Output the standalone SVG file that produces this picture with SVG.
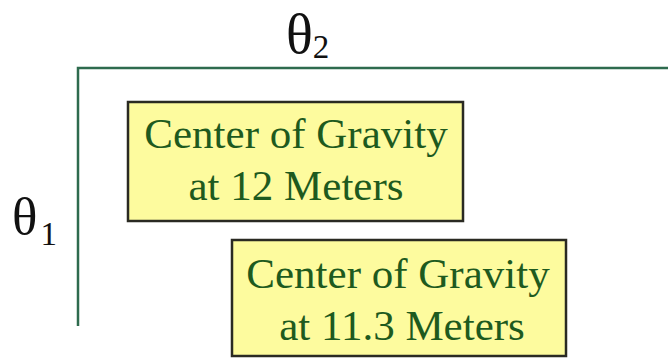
<svg xmlns="http://www.w3.org/2000/svg" width="668" height="358" viewBox="0 0 668 358">
<style>
.lbl{font-family:"Liberation Serif","Times New Roman",serif;fill:#111;}
.box{fill:#fdfb9e;stroke:#2a2a22;stroke-width:2.5;}
.txt{font-family:"Liberation Serif","Times New Roman",serif;font-size:43px;fill:#1e5a1e;text-anchor:middle;}
.axis{fill:none;stroke:#2e6b4e;stroke-width:2.5;}
</style>
<rect width="668" height="358" fill="#ffffff"/>
<g id="connectors">
<path class="axis" d="M78,326 V68 H668"/>
</g>
<g id="theta2">
<text class="lbl" x="286" y="53" font-size="56">θ<tspan font-size="33" dy="5">2</tspan></text>
</g>
<g id="theta1">
<text class="lbl" x="12" y="234" font-size="53">θ<tspan font-size="33" dx="3" dy="11">1</tspan></text>
</g>
<g id="box1">
<rect class="box" x="128" y="102" width="335" height="119"/>
<text class="txt" x="296" y="148">Center of Gravity</text>
<text class="txt" x="296" y="200">at 12 Meters</text>
</g>
<g id="box2">
<rect class="box" x="232" y="240" width="334" height="116"/>
<text class="txt" x="398" y="288">Center of Gravity</text>
<text class="txt" x="402" y="340">at 11.3 Meters</text>
</g>
</svg>
